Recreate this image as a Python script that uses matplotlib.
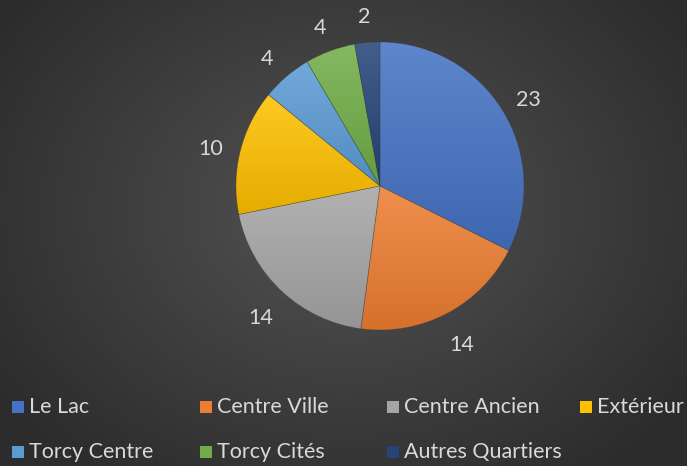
import numpy as np
import matplotlib
matplotlib.use("Agg")
import matplotlib.pyplot as plt
from matplotlib.colors import to_rgb
from matplotlib.patches import Rectangle

categories = ["Le Lac", "Centre Ville", "Centre Ancien", "Extérieur",
              "Torcy Centre", "Torcy Cités", "Autres Quartiers"]
values = [23, 14, 14, 10, 4, 4, 2]
colors = ["#4472C4", "#ED7D31", "#A5A5A5", "#FFC000", "#5B9BD5", "#70AD47", "#264478"]

W, H, DPI = 687, 466, 100
FONT = ["Lato", "DejaVu Sans"]
TXT = "#d9d9d9"

fig = plt.figure(figsize=(W / DPI, H / DPI), dpi=DPI)

# radial background
bg = fig.add_axes([0, 0, 1, 1], zorder=-10)
yy, xx = np.mgrid[0:H, 0:W]
d = np.sqrt(((xx - 345) / 420.0) ** 2 + ((yy - 210) / 330.0) ** 2)
d = np.clip(d, 0, 1)
c0 = np.array([0x53, 0x53, 0x53]) / 255
c1 = np.array([0x2c, 0x2c, 0x2c]) / 255
img = c0[None, None, :] * (1 - d[..., None]) + c1[None, None, :] * d[..., None]
bg.imshow(img, extent=[0, W, H, 0], aspect="auto", interpolation="bilinear")
bg.set_xlim(0, W)
bg.set_ylim(H, 0)
bg.axis("off")

# pie axes
cx, cy, R, half = 380, 186, 144, 200
ax = fig.add_axes([(cx - half) / W, (H - cy - half) / H, 2 * half / W, 2 * half / H])
lim = half / R
wedges, texts = ax.pie(values, colors=colors, startangle=90, counterclock=False,
                       radius=1.0, labels=[str(v) for v in values], labeldistance=1.21,
                       wedgeprops=dict(linewidth=0.5, edgecolor=(0.2, 0.2, 0.2, 0.3)),
                       textprops=dict(color=TXT, fontsize=15.5, family=FONT))
for t in texts:
    t.set_horizontalalignment("center")
    t.set_verticalalignment("center")
    x, y = t.get_position()
    t.set_position((x, y - 0.035))

# gradient fill for each wedge
for w, col in zip(wedges, colors):
    rgb = np.array(to_rgb(col))
    top = rgb + (1 - rgb) * 0.14
    bot = rgb * 0.90
    bb = w.get_path().get_extents(w.get_transform() - ax.transData)
    n = 64
    t = np.linspace(0, 1, n)[:, None]
    grad = top[None, :] * (1 - t) + bot[None, :] * t
    grad = np.repeat(grad[:, None, :], 2, axis=1)
    im = ax.imshow(grad, extent=[bb.x0, bb.x1, bb.y0, bb.y1], origin="upper",
                   aspect="auto", interpolation="bilinear", zorder=w.get_zorder() + 0.1)
    im.set_clip_path(w)
    w.set_zorder(w.get_zorder() + 0.2)
    w.set_facecolor("none")

ax.set_xlim(-lim, lim)
ax.set_ylim(-lim, lim)
ax.set_aspect("equal")
ax.axis("off")

# legend
col_x = [12, 200, 387, 580]
row_y = [407, 452]
sq = 12
for i, (lab, col) in enumerate(zip(categories, colors)):
    r, c = divmod(i, 4)
    x, y = col_x[c], row_y[r]
    bg.add_patch(Rectangle((x, y - sq / 2), sq, sq, facecolor=col, edgecolor="none"))
    bg.text(x + sq + 5, y, lab, color=TXT, fontsize=15.5, family=FONT,
            ha="left", va="center")

fig.savefig("out.png", dpi=DPI, facecolor="#3a3a3a")
